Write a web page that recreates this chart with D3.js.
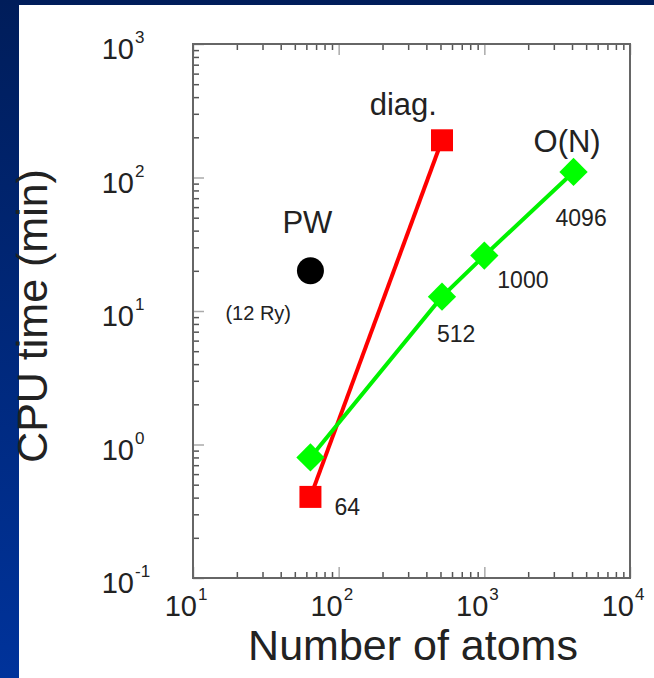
<!DOCTYPE html>
<html>
<head>
<meta charset="utf-8">
<script src="https://cdn.jsdelivr.net/npm/d3@7/dist/d3.min.js"></script>
<style>
  body { margin: 0; background: #002a80; }
  svg { display: block; }
  text { font-family: "Liberation Sans", Arial, Helvetica, sans-serif; fill: #222; }
</style>
</head>
<body>
<svg id="chart" width="654" height="678"></svg>
<script>
// CPU time vs number of atoms, log-log.

// Data.
const atomsDiag = [64, 512]
const timeDiag = [0.405, 190]
const atomsON = [64, 512, 1000, 4096]
const timeON = [0.8, 12.8, 26, 110]
const atomsPW = [64]
const timePW = [20]
const sizeLabels = ["64", "512", "1000", "4096"]
const sizeLabelAt = [0.405, 12.8, 26, 110]   // which point each size label hangs off
const xTickExps = [1, 2, 3, 4]
const yTickExps = [-1, 0, 1, 2, 3]

const W = 654
const H = 678
const LEFT = 193, RIGHT = 630, TOP = 44, BOTTOM = 578

function setupSvg() {
  var svg = d3.select("#chart")

  // blue slide background with the white panel on top
  var defs = svg.append("defs")
  var grad = defs.append("linearGradient")
      .attr("id", "bg").attr("x1", 0).attr("y1", 0).attr("x2", 0).attr("y2", 1)
  grad.append("stop").attr("offset", "0%").attr("stop-color", "#001d5a")
  grad.append("stop").attr("offset", "100%").attr("stop-color", "#00339b")
  svg.append("rect").attr("width", W).attr("height", H).attr("fill", "url(#bg)")
  svg.append("rect").attr("x", 19).attr("y", 5)
      .attr("width", W - 19).attr("height", H - 5).attr("fill", "#fff")
  return svg
}

function minorTicks(lo, hi) {
  var out = []
  for (var e = lo; e < hi; e++)
    for (var k = 2; k <= 9; k++) out.push(k * Math.pow(10, e))
  return out
}

function drawAxes(svg, x, y) {
  var xMinor = minorTicks(1, 4)
  var yMinor = minorTicks(-1, 3)
  var xMajor = xTickExps.map(e => Math.pow(10, e))
  var yMajor = yTickExps.map(e => Math.pow(10, e))

  function styleAxis(g, col) {
    g.select(".domain").remove()
    g.selectAll("line").attr("stroke", col).attr("stroke-width", 1.5)
  }

  // ticks point inward; right side has none
  var axes = [
    [d3.axisBottom(x), BOTTOM, 0, xMinor, xMajor],
    [d3.axisTop(x), TOP, 0, xMinor, xMajor],
    [d3.axisLeft(y), 0, LEFT, yMinor, yMajor]
  ]
  axes.forEach(a => {
    svg.append("g").attr("transform", `translate(${a[2]},${a[1]})`)
        .call(a[0].tickValues(a[3]).tickSize(-6).tickFormat(""))
        .call(g => styleAxis(g, "#555"))
    svg.append("g").attr("transform", `translate(${a[2]},${a[1]})`)
        .call(a[0].tickValues(a[4]).tickSize(-11).tickFormat(""))
        .call(g => styleAxis(g, "#aaa"))
  })

  // frame
  svg.append("rect").attr("x", LEFT).attr("y", TOP)
      .attr("width", RIGHT - LEFT).attr("height", BOTTOM - TOP)
      .attr("fill", "none").attr("stroke", "#666").attr("stroke-width", 2)

  // tick labels 10^n
  xTickExps.forEach(e => {
    var px = x(Math.pow(10, e))
    svg.append("text").attr("x", px + 4).attr("y", 616)
        .attr("text-anchor", "end").attr("font-size", 29).text("10")
    svg.append("text").attr("x", px + 5).attr("y", 600)
        .attr("font-size", 17).text(e)
  })
  yTickExps.forEach(e => {
    var py = y(Math.pow(10, e))
    svg.append("text").attr("x", 134).attr("y", py + 15)
        .attr("text-anchor", "end").attr("font-size", 29).text("10")
    svg.append("text").attr("x", 135).attr("y", py - 1)
        .attr("font-size", 17).text(e)
  })

  // axis titles
  svg.append("text").attr("x", 413).attr("y", 660)
      .attr("text-anchor", "middle").attr("font-size", 43)
      .text("Number of atoms")
  svg.append("text").attr("transform", "translate(47,316) rotate(-90)")
      .attr("text-anchor", "middle").attr("font-size", 43)
      .text("CPU time (min)")
}

function drawData(svg, x, y) {
  var line = d3.line().x(d => x(d[0])).y(d => y(d[1]))
  var diag = d3.zip(atomsDiag, timeDiag)
  var on = d3.zip(atomsON, timeON)
  var pw = d3.zip(atomsPW, timePW)

  svg.append("path").datum(diag).attr("d", line)
      .attr("fill", "none").attr("stroke", "#ff0000").attr("stroke-width", 4)
  svg.selectAll(".sq").data(diag).join("path")
      .attr("transform", d => `translate(${x(d[0])},${y(d[1])})`)
      .attr("d", d3.symbol(d3.symbolSquare, 22 * 22))
      .attr("fill", "#ff0000")

  svg.append("path").datum(on).attr("d", line)
      .attr("fill", "none").attr("stroke", "#00f200").attr("stroke-width", 4)
  svg.selectAll(".dm").data(on).join("path")
      .attr("transform", d => `translate(${x(d[0])},${y(d[1])}) rotate(45)`)
      .attr("d", d3.symbol(d3.symbolSquare, 20 * 20))
      .attr("fill", "#00ff00")

  svg.selectAll(".pw").data(pw).join("circle")
      .attr("cx", d => x(d[0])).attr("cy", d => y(d[1])).attr("r", 13.5)
      .attr("fill", "#000")

  // series names
  var last = diag[diag.length - 1]
  svg.append("text").attr("x", x(last[0]) - 5).attr("y", y(last[1]) - 25)
      .attr("text-anchor", "end").attr("font-size", 31).text("diag.")
  last = on[on.length - 1]
  svg.append("text").attr("x", x(last[0]) - 40).attr("y", y(last[1]) - 20)
      .attr("font-size", 31).text("O(N)")
  svg.append("text").attr("x", x(pw[0][0]) - 28).attr("y", y(pw[0][1]) - 38)
      .attr("font-size", 31).text("PW")
  svg.append("text").attr("x", x(pw[0][0]) - 85).attr("y", y(pw[0][1]) + 49)
      .attr("font-size", 20).text("(12 Ry)")

  // system sizes next to the points
  var offs = [[24, 18], [-5, 45], [13, 32], [-18, 54]]
  sizeLabels.forEach((s, i) => {
    var n = +s
    svg.append("text").attr("x", x(n) + offs[i][0]).attr("y", y(sizeLabelAt[i]) + offs[i][1])
        .attr("font-size", 23).text(s)
  })
}

function main() {
  var svg = setupSvg()
  var x = d3.scaleLog().domain([10, 10000]).range([LEFT, RIGHT])
  var y = d3.scaleLog().domain([0.1, 1000]).range([BOTTOM, TOP])
  drawAxes(svg, x, y)
  drawData(svg, x, y)
}

main()
</script>
</body>
</html>
